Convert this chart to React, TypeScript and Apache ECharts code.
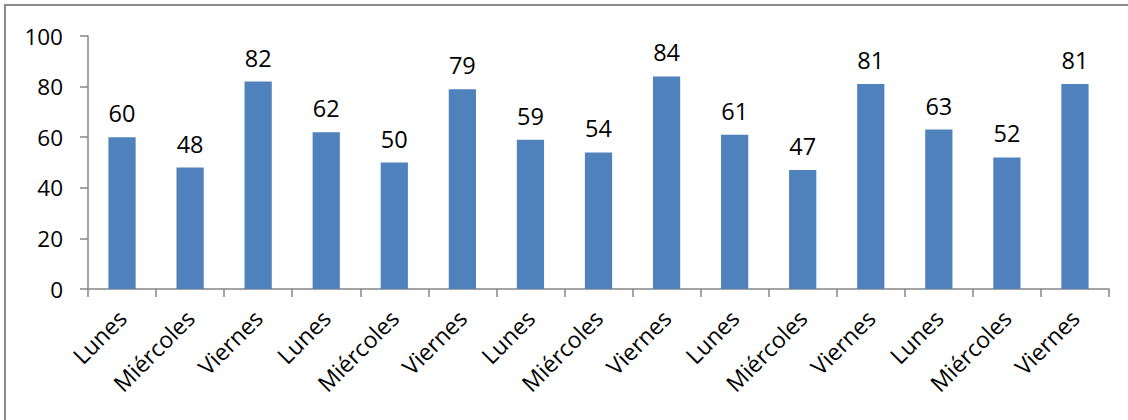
import React, { useEffect, useRef } from "react";
import * as echarts from "echarts";

const categories = [
  "Lunes", "Miércoles", "Viernes",
  "Lunes", "Miércoles", "Viernes",
  "Lunes", "Miércoles", "Viernes",
  "Lunes", "Miércoles", "Viernes",
  "Lunes", "Miércoles", "Viernes",
];
const values = [60, 48, 82, 62, 50, 79, 59, 54, 84, 61, 47, 81, 63, 52, 81];
const yMin = 0;
const yMax = 100;
const yInterval = 20;

const FONT = "'Open Sans', Lato, sans-serif";

export default function App() {
  const ref = useRef<HTMLDivElement>(null);
  useEffect(() => {
    document.body.style.margin = "0";
    const chart = echarts.init(ref.current!, null, { renderer: "svg" });
    chart.setOption({
      animation: false,
      backgroundColor: "#ffffff",
      textStyle: { fontFamily: FONT },
      graphic: [
        {
          type: "rect",
          shape: { x: 5, y: 5, width: 1140, height: 430 },
          style: { fill: "none", stroke: "#8a8a8a", lineWidth: 2 },
          silent: true,
        },
      ],
      grid: { left: 88, right: 19, top: 36, bottom: 131, containLabel: false },
      xAxis: {
        type: "category",
        data: categories,
        axisLine: { lineStyle: { color: "#868686", width: 1.5 } },
        axisTick: { show: true, length: 8, alignWithLabel: false, lineStyle: { color: "#868686", width: 1.5 } },
        axisLabel: {
          interval: 0,
          rotate: 45,
          margin: 25,
          color: "#000",
          fontSize: 23,
          fontFamily: FONT,
        },
      },
      yAxis: {
        type: "value",
        min: yMin,
        max: yMax,
        interval: yInterval,
        splitLine: { show: false },
        axisLine: { show: true, lineStyle: { color: "#868686", width: 1.5 } },
        axisTick: { show: true, length: 8, lineStyle: { color: "#868686", width: 1.5 } },
        axisLabel: { color: "#000", fontSize: 22.5, margin: 25, fontFamily: FONT },
      },
      series: [
        {
          type: "bar",
          data: values,
          barWidth: "40%",
          itemStyle: { color: "#4f81bd" },
          label: {
            show: true,
            position: "top",
            distance: 12,
            color: "#000",
            fontSize: 23.5,
            fontFamily: FONT,
          },
        },
      ],
    });
    return () => chart.dispose();
  }, []);
  return <div ref={ref} style={{ width: 1128, height: 420 }} />;
}
